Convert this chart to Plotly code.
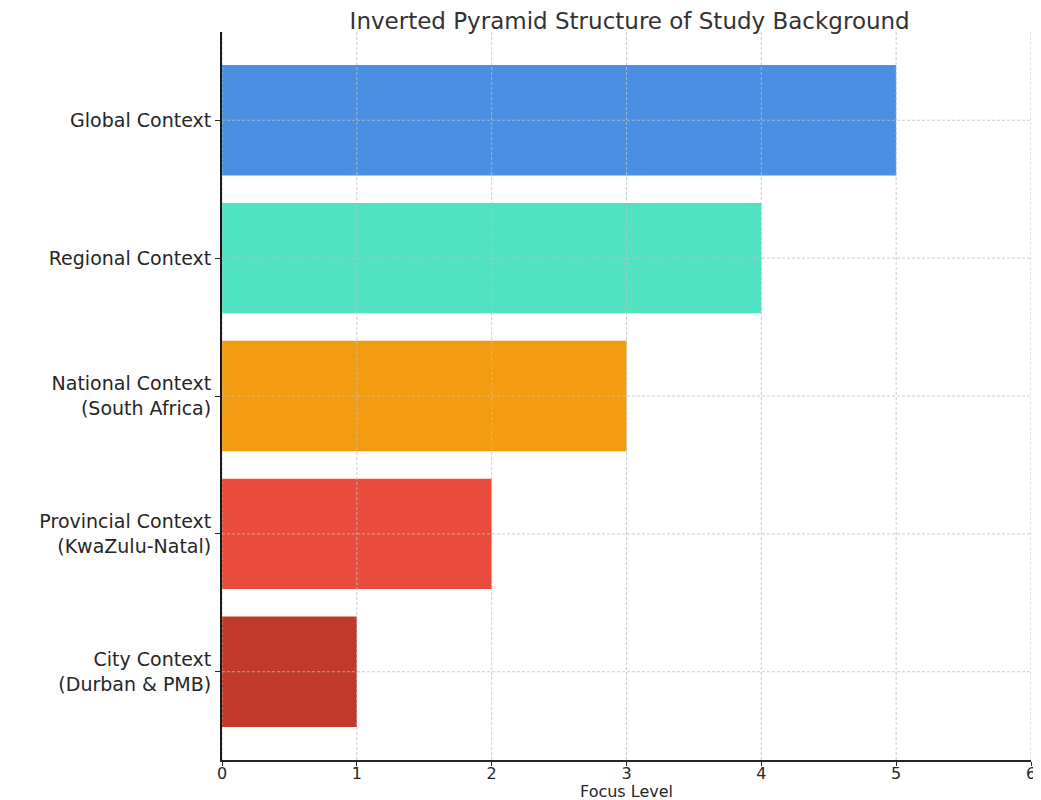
import plotly.graph_objects as go

categories = [
    "Global Context",
    "Regional Context",
    "National Context<br>(South Africa)",
    "Provincial Context<br>(KwaZulu-Natal)",
    "City Context<br>(Durban & PMB)",
]
focus_levels = [5, 4, 3, 2, 1]
colors = ["#4A90E2", "#50E3C2", "#F39C12", "#E74C3C", "#C0392B"]
x_ticks = [0, 1, 2, 3, 4, 5, 6]

FONT = "DejaVu Sans"
GRID = "rgba(190,190,190,0.8)"

fig = go.Figure()
fig.add_trace(go.Bar(
    x=focus_levels,
    y=categories,
    orientation="h",
    width=0.8,
    marker=dict(color=colors, line=dict(width=0)),
    hoverinfo="x+y",
))

shapes = []
for t in x_ticks:
    shapes.append(dict(type="line", xref="x", yref="paper", x0=t, x1=t, y0=0, y1=1,
                       line=dict(color=GRID, width=1, dash="3px,2px"),
                       layer="above"))
for c in categories:
    shapes.append(dict(type="line", xref="paper", yref="y", x0=0, x1=1, y0=c, y1=c,
                       line=dict(color=GRID, width=1, dash="3px,2px"),
                       layer="above"))

fig.update_layout(
    width=1033, height=792,
    margin=dict(l=214, r=10, t=24, b=40, autoexpand=False),
    paper_bgcolor="white", plot_bgcolor="white",
    font=dict(family=FONT, color="#262626"),
    title=dict(text="Inverted Pyramid Structure of Study Background",
               font=dict(family=FONT, size=23, color="#333333"),
               x=0.6018, xanchor="center", yref="container", y=0.984, yanchor="middle"),
    shapes=shapes,
    annotations=[dict(text="Focus Level", xref="paper", yref="paper",
                      x=0.5, y=-0.0426, xanchor="center", yanchor="middle",
                      showarrow=False, font=dict(family=FONT, size=16, color="#262626"))],
    showlegend=False,
    bargap=0.2,
)
fig.update_xaxes(
    range=[0, 6], tickvals=x_ticks, ticktext=[str(t) for t in x_ticks],
    showgrid=False, zeroline=False, automargin=False,
    showline=True, linecolor="#262626", linewidth=1.5,
    ticks="outside", ticklen=4, tickwidth=1, tickcolor="#262626",
    ticklabelstandoff=-6,
    tickfont=dict(family=FONT, size=16),
)
fig.update_yaxes(
    type="category", categoryorder="array", categoryarray=categories,
    range=[4.64, -0.64], automargin=False,
    showgrid=False, zeroline=False,
    showline=True, linecolor="#1a1a1a", linewidth=2,
    ticks="outside", ticklen=5, tickwidth=1, tickcolor="#262626",
    tickfont=dict(family=FONT, size=19),
)

fig.write_html("out.html")
